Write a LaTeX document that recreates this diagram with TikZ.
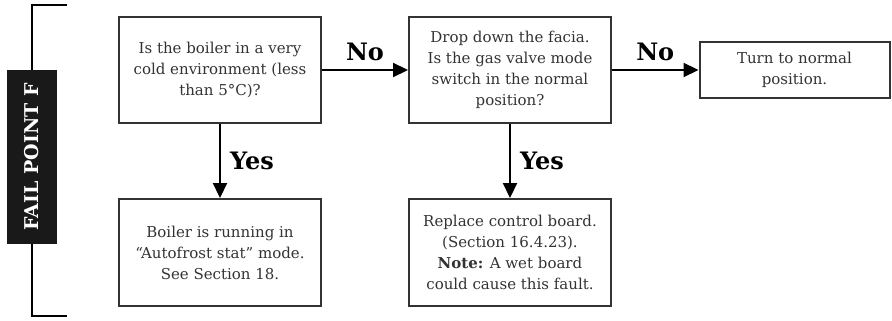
\documentclass[tikz,border=0pt]{standalone}
\usepackage{fontspec}
\setmainfont{DejaVu Serif}
\usetikzlibrary{arrows.meta}
\definecolor{boxline}{HTML}{333333}
\definecolor{txt}{HTML}{333333}
\tikzset{
  flowbox/.style={draw=boxline, line width=2pt, align=center, text=txt, inner sep=0pt,
    font=\fontsize{15}{21}\selectfont},
  flowarrow/.style={line width=2.2pt, -{Triangle[length=15pt,width=14pt]}},
  lbl/.style={font=\fontsize{24}{26}\selectfont\bfseries, text=black, inner sep=0pt},
}
\begin{document}
\begin{tikzpicture}[x=1pt,y=-1pt]
\useasboundingbox (0,0) rectangle (892,321);
% bracket
\coordinate (bt) at (67,5);
\coordinate (btl) at (32,5);
\coordinate (bbl) at (32,316);
\coordinate (bb) at (67,316);
\draw[line width=2pt, black] (bt) -- (btl) -- (bbl) -- (bb);
\node[fill=black!90, minimum width=50pt, minimum height=174pt, inner sep=0pt, anchor=center]
  (fp) at (32,157) {};
\node[rotate=90, text=white, font=\fontsize{19}{21}\selectfont\bfseries] (fpt) at (fp.center) {FAIL POINT F};
% boxes
\node[flowbox, minimum width=202pt, minimum height=106pt] (q1) at (220,70)
  {Is the boiler in a very\\cold environment (less\\than 5°C)?};
\node[flowbox, minimum width=202pt, minimum height=106pt] (q2) at (510,70)
  {Drop down the facia.\\Is the gas valve mode\\switch in the normal\\position?};
\node[flowbox, minimum width=190pt, minimum height=56pt] (r3) at (794.5,70)
  {Turn to normal\\position.};
\node[flowbox, minimum width=202pt, minimum height=107pt] (r1) at (220,252.5)
  {Boiler is running in\\“Autofrost stat” mode.\\See Section 18.};
\node[flowbox, minimum width=202pt, minimum height=107pt] (r2) at (510,252.5)
  {Replace control board.\\(Section 16.4.23).\\\textbf{Note:} A wet board\\could cause this fault.};
% arrows
\draw[flowarrow] (q1.east) -- (q2.west) node[lbl, midway, above=8pt] (n1) {No};
\draw[flowarrow] (q2.east) -- (r3.west) node[lbl, midway, above=8pt] (n2) {No};
\draw[flowarrow] (q1.south) -- (r1.north) node[lbl, midway, right=9pt] (y1) {Yes};
\draw[flowarrow] (q2.south) -- (r2.north) node[lbl, midway, right=9pt] (y2) {Yes};
\end{tikzpicture}
\end{document}
